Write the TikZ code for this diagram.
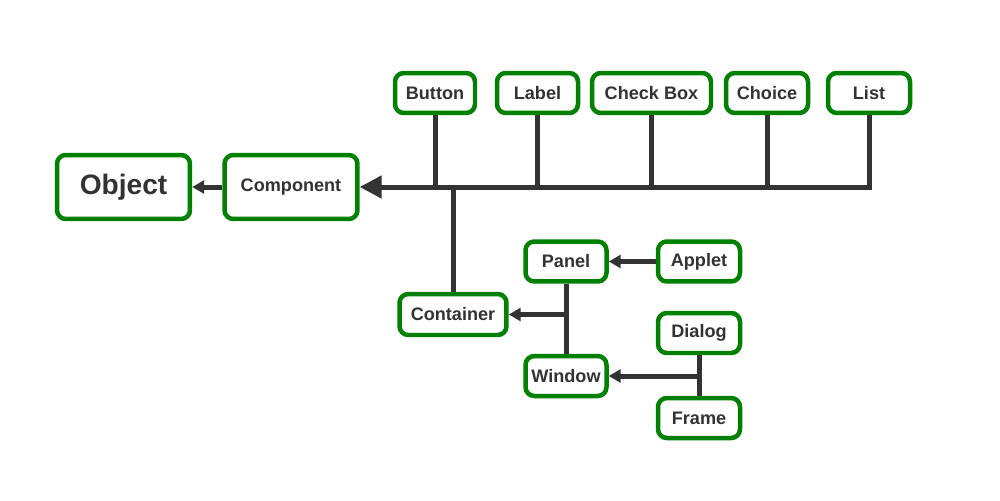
\documentclass[tikz,border=0pt]{standalone}
\usepackage{fontspec}
\setmainfont{Liberation Sans}
\usetikzlibrary{arrows.meta}
\definecolor{boxgreen}{RGB}{0,128,0}
\definecolor{linegray}{RGB}{51,51,51}
\begin{document}
\begin{tikzpicture}[x=0.02cm, y=-0.02cm,
  cls/.style={draw=boxgreen, line width=0.09cm, rounded corners=5pt, fill=white,
    text=linegray, font=\bfseries\fontsize{10.3}{12}\selectfont,
    minimum width=1.62cm, minimum height=0.8cm, inner sep=0pt},
  link/.style={draw=linegray, line width=0.1cm},
  arr/.style={link, -{Triangle[length=0.24cm, width=0.26cm]}},
  bigarr/.style={link, -{Triangle[length=0.44cm, width=0.44cm]}}]
% Set the page size
\useasboundingbox (0, 0) rectangle (1000, 500);

% Draw the class boxes
\node[cls, minimum width=2.66cm, minimum height=1.28cm, font=\bfseries\fontsize{16}{19}\selectfont] (object) at (123.5, 187) {Object};
\node[cls, minimum width=2.66cm, minimum height=1.28cm] (component) at (291, 187) {Component};
\node[cls, minimum width=1.60cm] (button) at (435, 93) {Button};
\node[cls] (label) at (537.5, 93) {Label};
\node[cls, minimum width=2.38cm] (checkbox) at (651.5, 93) {Check Box};
\node[cls, minimum width=1.64cm] (choice) at (767, 93) {Choice};
\node[cls, minimum width=1.64cm] (list) at (869, 93) {List};
\node[cls, minimum width=2.14cm, minimum height=0.82cm] (container) at (453, 314.5) {Container};
\node[cls] (panel) at (566, 261.5) {Panel};
\node[cls, minimum width=1.64cm] (applet) at (699, 261.5) {Applet};
\node[cls] (window) at (566, 376) {Window};
\node[cls, minimum width=1.64cm] (dialog) at (699, 333) {Dialog};
\node[cls, minimum width=1.64cm] (frame) at (699, 418) {Frame};

% Draw the inheritance links
\draw[arr] (component.west) -- (object.east);
\draw[bigarr] (list.south) |- (component.east);
\draw[link] (button.south) -- (button.south |- component.east);
\draw[link] (label.south) -- (label.south |- component.east);
\draw[link] (checkbox.south) -- (checkbox.south |- component.east);
\draw[link] (choice.south) -- (choice.south |- component.east);
\draw[link] (container.north) -- (container.north |- component.east);
\draw[link] (panel.south) -- (window.north);
\draw[arr] (panel.south |- container.east) -- (container.east);
\draw[arr] (applet.west) -- (panel.east);
\draw[link] (dialog.south) -- (frame.north);
\draw[arr] (dialog.south |- window.east) -- (window.east);
\end{tikzpicture}
\end{document}
